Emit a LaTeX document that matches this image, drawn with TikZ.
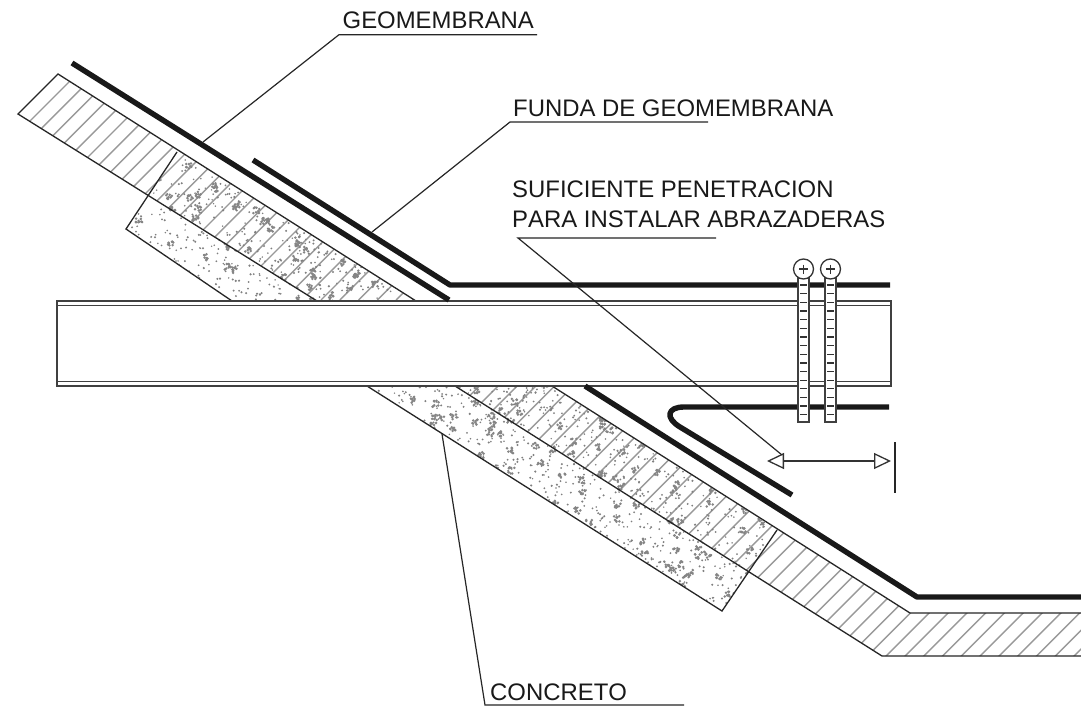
\documentclass[tikz,border=0pt]{standalone}
\usepackage{fontspec}
\setmainfont[Kerning=Off]{Liberation Sans}
\usetikzlibrary{arrows.meta}
\tikzset{
  outline/.style={draw=black!85,line width=1.3pt},
  hatchline/.style={draw=black!40,line width=1.4pt},
  membrane/.style={draw=black!90,line width=5.4pt,line join=round},
  leader/.style={draw=black!85,line width=1.2pt},
  beamline/.style={draw=black!75,line width=1.5pt},
  strapbox/.style={draw=black!75,fill=white,line width=1.4pt},
  screwhead/.style={draw=black!80,fill=white,line width=1.3pt},
  label/.style={inner sep=0pt,text=black!90,font=\fontsize{23.9}{30}\selectfont},
  dimline/.style={draw=black!80,line width=1.2pt,{Triangle[open,length=17pt,width=16pt,line width=1.3pt]}-{Triangle[open,length=17pt,width=16pt,line width=1.3pt]}}
}
\newcommand{\stipplezone}[8]{%
  \foreach \i in {1,...,#7}{%
    \pgfmathsetmacro{\uu}{rnd*#5}%
    \pgfmathsetmacro{\vv}{rnd*#6}%
    \pgfmathsetmacro{\rr}{0.8+0.4*rnd}%
    \fill[black!50] ({#1+\uu*#3-\vv*#4},{#2+\uu*#4+\vv*#3}) circle (\rr);
  }%
  \foreach \i in {1,...,#8}{%
    \pgfmathsetmacro{\uu}{rnd*#5}%
    \pgfmathsetmacro{\vv}{rnd*#6}%
    \foreach \j in {1,...,8}{%
      \pgfmathsetmacro{\dx}{(rnd-0.5)*6.5}%
      \pgfmathsetmacro{\dy}{(rnd-0.5)*6.5}%
      \fill[black!48] ({#1+\uu*#3-\vv*#4+\dx},{#2+\uu*#4+\vv*#3+\dy}) circle (1.4);
    }%
  }%
}
\begin{document}
\begin{tikzpicture}[x=1pt,y=-1pt]
\useasboundingbox (0,0) rectangle (1081,706);
\fill[white] (0,0) rectangle (1081,706);
\pgfmathsetseed{29}
% hatching of the fill
\begin{scope}
  \clip (58,74) -- (416,301) -- (317,301) -- (18,114) -- cycle;
  \foreach \c in {0,...,40}{\draw[hatchline] ({151+\c*18.8},0) -- ++(-300,300);}
\end{scope}
\begin{scope}
  \clip (455,386) -- (552,386) -- (910,613) -- (1081,613) -- (1081,656) -- (882,656) -- cycle;
  \foreach \c in {34,...,100}{\draw[hatchline] ({151+\c*18.8},0) -- ++(-706,706);}
\end{scope}
% concrete stipple
\begin{scope}
  \clip (177,152) -- (416,301) -- (232,301) -- (126,229) -- cycle;
  \stipplezone{177}{152}{0.848}{0.530}{340}{95}{560}{70}
\end{scope}
\begin{scope}
  \clip (367,386) -- (552,386) -- (777,530) -- (722,611) -- cycle;
  \stipplezone{420}{302}{0.842}{0.539}{430}{100}{760}{90}
\end{scope}
% wall outlines
\draw[outline] (317,301) -- (18,114) -- (58,74) -- (416,301);
\draw[outline] (455,386) -- (882,656) -- (1081,656);
\draw[outline] (552,386) -- (910,613) -- (1081,613);
% concrete blocks
\draw[outline] (177,152) -- (126,229) -- (232,301);
\draw[outline] (367,386) -- (722,611) -- (777,530);
% beam
\draw[beamline] (891,301) -- (57,301) -- (57,386) -- (891,386) -- cycle;
\draw[beamline] (57,305.5) -- (891,305.5);
\draw[beamline] (57,381.5) -- (891,381.5);
% membranes
\draw[membrane] (72,63) -- (449,300);
\draw[membrane] (253,160) -- (450,285) -- (890,285);
\draw[membrane] (585,386) -- (917,597) -- (1081,597);
\draw[membrane] (889,407) -- (684,407) .. controls (667,407) and (665,418) .. (680,427) -- (792,495);
% straps and screws
\foreach \sx in {803.5,830.5}{
  \draw[strapbox] ({\sx-5.5},275) rectangle ({\sx+5.5},422);
  \foreach \k in {0,...,15}{\draw[draw=black!80,line width=1.3pt] ({\sx-3.2},{285+\k*8.65}) -- ({\sx+3.2},{285+\k*8.65});}
  \draw[screwhead] (\sx,269) circle (10);
  \draw[draw=black!80,line width=1.3pt] ({\sx-4.5},269) -- ({\sx+4.5},269) ({\sx},264.5) -- ({\sx},273.5);
}
% dimension
\coordinate (dimL) at (767,461);
\coordinate (dimR) at (891,461);
\coordinate (tickT) at (895,442);
\coordinate (tickB) at (895,493);
\draw[dimline] (dimL) -- (dimR);
\draw[leader] (tickT) -- (tickB);
% labels
\node[label,anchor=base west] (lgeo) at (342.5,29) {GEOMEMBRANA};
\node[label,anchor=base west] (lfun) at (513,117) {FUNDA DE GEOMEMBRANA};
\node[label,anchor=north west,align=left] (lsuf) at (512,180.5) {SUFICIENTE PENETRACION\\PARA INSTALAR ABRAZADERAS};
\node[label,anchor=base west] (lcon) at (490,700) {CONCRETO};
% leaders
\coordinate (g0) at (203,142); \coordinate (g1) at (339,34.7); \coordinate (g2) at (537,34.7);
\coordinate (f0) at (372,232); \coordinate (f1) at (510,122); \coordinate (f2) at (708,122);
\coordinate (s0) at (782,455); \coordinate (s1) at (518,238); \coordinate (s2) at (716,238);
\coordinate (c0) at (442,434); \coordinate (c1) at (485,705); \coordinate (c2) at (684,705);
\draw[leader] (g0) -- (g1) -- (g2);
\draw[leader] (f0) -- (f1) -- (f2);
\draw[leader] (s0) -- (s1) -- (s2);
\draw[leader] (c0) -- (c1) -- (c2);
\end{tikzpicture}
\end{document}
